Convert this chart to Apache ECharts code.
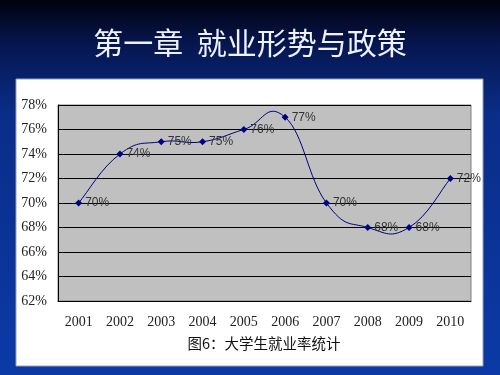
<!DOCTYPE html>
<html><head><meta charset="utf-8">
<script src="https://cdn.jsdelivr.net/npm/echarts@6/dist/echarts.min.js"></script>
<style>html,body{margin:0;padding:0;}#c{width:500px;height:375px;}</style>
</head><body><div id="c"></div>
<script>
const years = ['2001','2002','2003','2004','2005','2006','2007','2008','2009','2010'];
const rates = [70, 74, 75, 75, 76, 77, 70, 68, 68, 72];
const slideTitle = '第一章  就业形势与政策';
const caption = '图6：大学生就业率统计';

const K = 0.23; // spreadsheet-style curve smoothing tension
const chart = echarts.init(document.getElementById('c'), null, {renderer: 'canvas'});

function renderCurve(params, api) {
  const i = params.dataIndex;
  const n = rates.length;
  if (i >= n - 1) return null;
  const pt = j => api.coord([Math.max(0, Math.min(n - 1, j)), rates[Math.max(0, Math.min(n - 1, j))]]);
  const p0 = pt(i - 1), p1 = pt(i), p2 = pt(i + 1), p3 = pt(i + 2);
  return {
    type: 'bezierCurve',
    shape: {
      x1: p1[0], y1: p1[1], x2: p2[0], y2: p2[1],
      cpx1: p1[0] + (p2[0] - p0[0]) * K, cpy1: p1[1] + (p2[1] - p0[1]) * K,
      cpx2: p2[0] - (p3[0] - p1[0]) * K, cpy2: p2[1] - (p3[1] - p1[1]) * K
    },
    style: {stroke: '#000080', lineWidth: 1, fill: null}
  };
}

chart.setOption({
  animation: false,
  graphic: [
    {type: 'rect', z: -10, silent: true, shape: {x: 0, y: 0, width: 500, height: 375},
     style: {fill: new echarts.graphic.LinearGradient(0, 0, 0, 1, [
       {offset: 0, color: '#01020d'},
       {offset: 0.12, color: '#061650'},
       {offset: 0.3, color: '#0a2d88'},
       {offset: 1, color: '#0b3aa6'}])}},
    {type: 'rect', z: -5, silent: true, shape: {x: 16, y: 79, width: 467, height: 287},
     style: {fill: '#ffffff', stroke: '#9aa0b0', lineWidth: 1}},
    {type: 'text', left: 'center', top: 28, z: 5,
     style: {text: slideTitle, fill: '#eef2ff', font: '30px "Noto Sans CJK SC"'}},
    {type: 'text', x: 264, y: 343, z: 5,
     style: {text: caption, fill: '#111', font: '14.5px "Noto Sans CJK SC"', align: 'center', verticalAlign: 'middle'}}
  ],
  grid: {left: 58, right: 29, top: 105, bottom: 74, show: true,
         backgroundColor: '#c0c0c0', borderColor: '#808080', borderWidth: 1},
  xAxis: {
    type: 'category', data: years, boundaryGap: true,
    axisLine: {lineStyle: {color: '#000', width: 1}},
    axisTick: {inside: true, length: 4, lineStyle: {color: '#000'}},
    axisLabel: {color: '#222', fontFamily: 'Liberation Serif', fontSize: 14, margin: 14}
  },
  yAxis: {
    type: 'value', min: 62, max: 78, interval: 2,
    axisLine: {show: true, lineStyle: {color: '#000', width: 1}},
    axisTick: {show: false},
    splitLine: {lineStyle: {color: '#000', width: 1}},
    axisLabel: {formatter: '{value}%', color: '#222', fontFamily: 'Liberation Serif', fontSize: 14, margin: 11}
  },
  series: [
    {
      type: 'custom', z: 2, silent: true,
      data: rates.map((v, i) => [i, v]),
      encode: {x: 0, y: 1},
      renderItem: renderCurve
    },
    {
      type: 'line', data: rates, z: 3,
      symbol: 'diamond', symbolSize: 7,
      itemStyle: {color: '#000080'},
      lineStyle: {width: 0, opacity: 0},
      label: {show: true, position: 'right', distance: 3, formatter: '{c}%',
              color: '#333', fontFamily: 'Liberation Sans', fontSize: 12}
    }
  ]
});
</script></body></html>
